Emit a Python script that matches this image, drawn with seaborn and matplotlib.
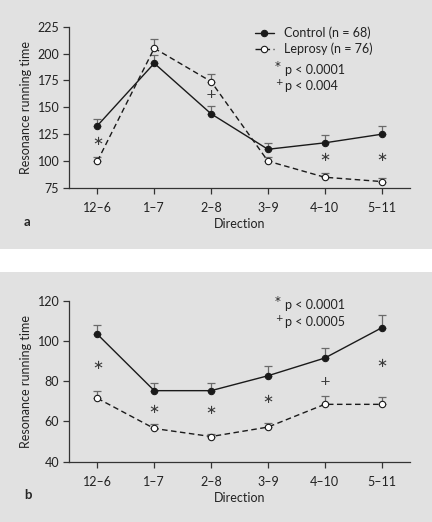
import matplotlib
matplotlib.use("Agg")
import matplotlib.pyplot as plt
import pandas as pd
import seaborn as sns
from matplotlib.patches import Rectangle

# Data
directions = ['12–6', '1–7', '2–8', '3–9', '4–10', '5–11']

a_control = [133, 191, 144, 111, 117, 125]
a_control_err = [6.5, 8, 7, 6, 7, 8]
a_leprosy = [100, 205, 174, 100, 85, 81]
a_leprosy_err = [4, 8.5, 7, 4, 3.5, 3]
a_marks = ['*', '', '+', '', '*', '*']
a_mark_y = [118, 0, 162, 0, 103, 103]

b_control = [103.3, 75.3, 75.3, 82.7, 91.5, 106.5]
b_control_err = [4.7, 4, 3.7, 5, 5.2, 6.2]
b_leprosy = [71.5, 56.5, 52.5, 57.2, 68.5, 68.5]
b_leprosy_err = [3.8, 2, 1.5, 2.1, 4.2, 3.5]
b_marks = ['*', '*', '*', '*', '+', '*']
b_mark_y = [88, 66, 65.3, 70.8, 79.7, 88.8]

sns.set_style("ticks")
plt.rcParams['font.family'] = ['Lato', 'DejaVu Sans']
plt.rcParams['font.size'] = 9

bg = '#e1e1e1'
ink = '#222222'
fig = plt.figure(figsize=(4.32, 5.22), dpi=100)
fig.patch.set_facecolor('white')
fig.patches.append(Rectangle((0, 1 - 249.5 / 522), 1, 249.5 / 522, transform=fig.transFigure,
                             facecolor=bg, edgecolor='none', zorder=-5))
fig.patches.append(Rectangle((0, 0), 1, 1 - 271.5 / 522, transform=fig.transFigure,
                             facecolor=bg, edgecolor='none', zorder=-5))


def panel(ax, control, control_err, leprosy, leprosy_err, marks, mark_y, ylim, yticks):
    x = list(range(len(directions)))
    df = pd.DataFrame({'x': x + x,
                       'value': control + leprosy,
                       'group': ['Control (n = 68)'] * 6 + ['Leprosy (n = 76)'] * 6})
    # one-sided error bars (upper only)
    ax.errorbar(x, control, yerr=[[0] * 6, control_err], fmt='none', ecolor='#6a6a6a',
                elinewidth=0.9, capsize=2.8, capthick=0.9, zorder=1)
    ax.errorbar(x, leprosy, yerr=[[0] * 6, leprosy_err], fmt='none', ecolor='#6a6a6a',
                elinewidth=0.9, capsize=2.8, capthick=0.9, zorder=1)
    sns.lineplot(data=df[df.group == 'Control (n = 68)'], x='x', y='value', ax=ax,
                 color='#1a1a1a', linewidth=1.0, marker='o', markersize=4.6,
                 markerfacecolor='#1a1a1a', markeredgecolor='#1a1a1a',
                 label='Control (n = 68)', zorder=3)
    sns.lineplot(data=df[df.group == 'Leprosy (n = 76)'], x='x', y='value', ax=ax,
                 color='#1a1a1a', linewidth=1.0, marker='o', markersize=4.6,
                 markerfacecolor='white', markeredgecolor='#1a1a1a', markeredgewidth=0.8,
                 label='Leprosy (n = 76)', zorder=3)
    ax.lines[-1].set_linestyle((0, (4, 2.5)))
    for i, m in enumerate(marks):
        if m == '*':
            ax.text(i, mark_y[i], '∗', ha='center', va='center', fontsize=9.5, color='#3a3a3a',
                    family=['DejaVu Sans'])
        elif m == '+':
            ax.text(i, mark_y[i], '+', ha='center', va='center', fontsize=9.5, color='#3a3a3a',
                    family=['DejaVu Sans'])
    ax.set_facecolor(bg)
    ax.set_xlim(-0.5, 5.5)
    ax.set_ylim(*ylim)
    ax.set_yticks(yticks)
    ax.set_xticks(x)
    ax.set_xticklabels(directions)
    ax.set_xlabel('Direction', labelpad=3, color=ink)
    ax.set_ylabel('Resonance running time', labelpad=4, color=ink)
    sns.despine(ax=ax)
    for s in ['left', 'bottom']:
        ax.spines[s].set_color('#333333')
        ax.spines[s].set_linewidth(0.9)
    ax.tick_params(axis='both', length=4, width=0.9, color='#333333', labelcolor=ink,
                   pad=3, labelsize=9)
    ax.tick_params(axis='x', pad=6)


def pnote(ax, y, sym, txt, size):
    ax.text(0.633, y, txt, transform=ax.transAxes, va='center', color=ink)
    ax.text(0.604, y + 0.022, sym, transform=ax.transAxes, va='center', fontsize=size,
            color=ink, family=['DejaVu Sans'])


ax1 = fig.add_axes([69 / 432, 1 - 188 / 522, 341 / 432, 161.3 / 522])
panel(ax1, a_control, a_control_err, a_leprosy, a_leprosy_err, a_marks, a_mark_y,
      (75, 225), [75, 100, 125, 150, 175, 200, 225])
ax1.legend(loc='upper left', bbox_to_anchor=(0.545, 1.0), frameon=False, handlelength=1.5,
           handletextpad=0.8, borderaxespad=0, borderpad=0, labelspacing=0.25, fontsize=9,
           labelcolor=ink)
pnote(ax1, 0.732, '*', 'p < 0.0001', 8.5)
pnote(ax1, 0.632, '+', 'p < 0.004', 6.5)
fig.text(24 / 432, 1 - 222 / 522, 'a', fontweight='bold', fontsize=9.5, va='center')

ax2 = fig.add_axes([69 / 432, 1 - 461.7 / 522, 341 / 432, 161 / 522])
panel(ax2, b_control, b_control_err, b_leprosy, b_leprosy_err, b_marks, b_mark_y,
      (40, 120), [40, 60, 80, 100, 120])
ax2.get_legend().remove()
pnote(ax2, 0.973, '*', 'p < 0.0001', 8.5)
pnote(ax2, 0.870, '+', 'p < 0.0005', 6.5)
fig.text(24 / 432, 1 - 495 / 522, 'b', fontweight='bold', fontsize=9.5, va='center')

fig.savefig('out.png', dpi=100, facecolor=fig.get_facecolor())
